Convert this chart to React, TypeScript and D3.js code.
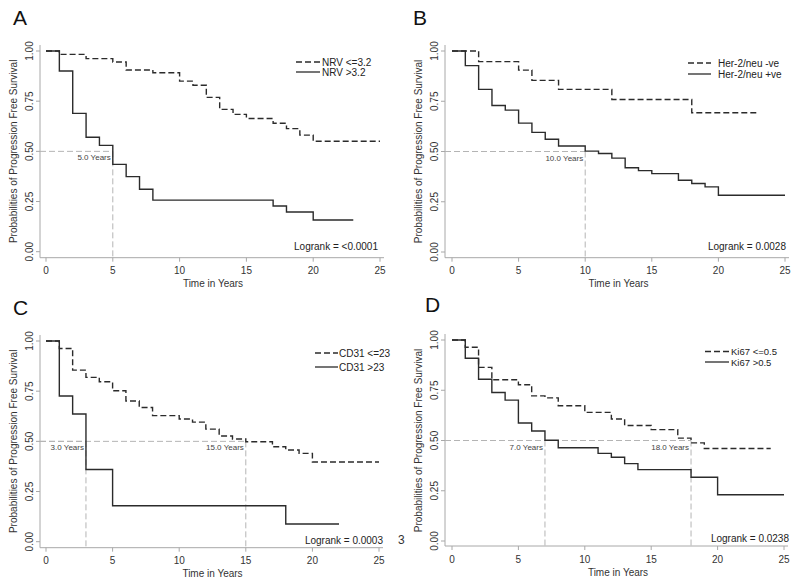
import * as React from "react";
import * as d3 from "d3";

// time axis / probability axis ticks
const yearTicks = [0, 5, 10, 15, 20, 25];
const probTicks = [0, 0.25, 0.5, 0.75, 1];

// A: NRV
const nrvLowTimes = [0, 1, 3, 5, 6, 8, 10, 11, 12, 13, 14, 15, 17, 18, 19, 20];
const nrvLowSurv = [1, 0.983, 0.962, 0.945, 0.905, 0.892, 0.85, 0.829, 0.769, 0.709, 0.684, 0.664, 0.64, 0.613, 0.581, 0.55];
const nrvLowEnd = 25;
const nrvHighTimes = [0, 1, 2, 3, 4, 5, 6, 7, 8, 17, 18, 20];
const nrvHighSurv = [1, 0.9, 0.689, 0.57, 0.53, 0.435, 0.374, 0.311, 0.257, 0.228, 0.198, 0.158];
const nrvHighEnd = 23;

// B: Her-2/neu
const herNegTimes = [0, 2, 5, 6, 8, 12, 18];
const herNegSurv = [1, 0.947, 0.905, 0.854, 0.809, 0.759, 0.693];
const herNegEnd = 23;
const herPosTimes = [0, 1, 2, 3, 4, 5, 6, 7, 8, 10, 11, 12, 13, 14, 15, 17, 18, 19, 20];
const herPosSurv = [1, 0.927, 0.809, 0.729, 0.706, 0.641, 0.595, 0.561, 0.527, 0.502, 0.49, 0.467, 0.419, 0.405, 0.39, 0.357, 0.341, 0.324, 0.282];
const herPosEnd = 25;

// C: CD31
const cdLowTimes = [0, 1, 2, 3, 4, 5, 6, 7, 8, 10, 11, 12, 13, 14, 15, 17, 18, 19, 20];
const cdLowSurv = [1, 0.963, 0.855, 0.819, 0.797, 0.752, 0.701, 0.669, 0.628, 0.611, 0.596, 0.561, 0.527, 0.512, 0.498, 0.473, 0.457, 0.44, 0.397];
const cdLowEnd = 25;
const cdHighTimes = [0, 1, 2, 3, 5, 18];
const cdHighSurv = [1, 0.726, 0.636, 0.36, 0.179, 0.088];
const cdHighEnd = 22;

// D: Ki67
const kiLowTimes = [0, 1, 2, 3, 5, 6, 7, 8, 10, 12, 13, 15, 17, 18, 19];
const kiLowSurv = [1, 0.964, 0.864, 0.802, 0.777, 0.722, 0.712, 0.673, 0.64, 0.607, 0.575, 0.554, 0.512, 0.488, 0.46];
const kiLowEnd = 24;
const kiHighTimes = [0, 1, 2, 3, 4, 5, 6, 7, 8, 11, 12, 13, 14, 18, 20];
const kiHighSurv = [1, 0.909, 0.805, 0.739, 0.701, 0.587, 0.547, 0.501, 0.464, 0.436, 0.417, 0.385, 0.355, 0.317, 0.23];
const kiHighEnd = 25;

const panelLetters = ["A", "B", "C", "D"];
const legendLabels = [
  ["NRV <=3.2", "NRV >3.2"],
  ["Her-2/neu -ve", "Her-2/neu +ve"],
  ["CD31 <=23", "CD31 >23"],
  ["Ki67 <=0.5", "Ki67 >0.5"],
];
const logranks = ["<0.0001", "0.0028", "0.0003", "0.0238"];
const medians = [[5], [10], [3, 15], [7, 18]];

const FONT = "'Liberation Sans', Arial, Helvetica, sans-serif";
const INK = "#2b2b2b";
const AXIS = "#a8a8a8";

type Curve = { times: number[]; surv: number[]; end: number };

const series: Curve[][] = [
  [
    { times: nrvLowTimes, surv: nrvLowSurv, end: nrvLowEnd },
    { times: nrvHighTimes, surv: nrvHighSurv, end: nrvHighEnd },
  ],
  [
    { times: herNegTimes, surv: herNegSurv, end: herNegEnd },
    { times: herPosTimes, surv: herPosSurv, end: herPosEnd },
  ],
  [
    { times: cdLowTimes, surv: cdLowSurv, end: cdLowEnd },
    { times: cdHighTimes, surv: cdHighSurv, end: cdHighEnd },
  ],
  [
    { times: kiLowTimes, surv: kiLowSurv, end: kiLowEnd },
    { times: kiHighTimes, surv: kiHighSurv, end: kiHighEnd },
  ],
];

// layout of each panel
const layouts = [
  { lx: 13, ly: 25, xr: [46, 380], yr: [251.7, 51], ax: 40, ay: 257.7, leg: { x1: 296, x2: 320, tx: 322, ys: [62, 72], fs: 10 }, lr: { x: 378, y: 250 } },
  { lx: 413, ly: 25, xr: [452, 785], yr: [252, 51], ax: 445, ay: 257.7, leg: { x1: 688, x2: 711, tx: 718, ys: [63, 74], fs: 10 }, lr: { x: 786, y: 250 } },
  { lx: 13, ly: 315, xr: [46, 379], yr: [541.7, 341], ax: 40, ay: 547.7, leg: { x1: 315, x2: 338, tx: 339, ys: [353, 367], fs: 10 }, lr: { x: 383, y: 544 } },
  { lx: 425, ly: 312, xr: [452, 784], yr: [541, 340], ax: 445, ay: 546, leg: { x1: 705, x2: 729, tx: 731, ys: [351.5, 362], fs: 9.5 }, lr: { x: 789, y: 542 } },
];

const dashes = ["6,3", null];

const Panel = ({ idx }: { idx: number }) => {
  const L = layouts[idx];
  const x = d3.scaleLinear().domain([0, 25]).range(L.xr);
  const y = d3.scaleLinear().domain([0, 1]).range(L.yr);
  const line = d3
    .line<[number, number]>()
    .x((d) => x(d[0]))
    .y((d) => y(d[1]))
    .curve(d3.curveStepAfter);

  return (
    <g>
      <text x={L.lx} y={L.ly} fontSize={21} fontFamily={FONT} fill="#111">
        {panelLetters[idx]}
      </text>

      {/* axes */}
      <line x1={L.ax} x2={L.ax} y1={y(1) - 6} y2={L.ay} stroke={AXIS} strokeWidth={1} />
      <line x1={L.ax} x2={x(25) + 4} y1={L.ay} y2={L.ay} stroke={AXIS} strokeWidth={1} />
      {probTicks.map((t) => (
        <g key={"y" + t}>
          <line x1={L.ax - 4} x2={L.ax} y1={y(t)} y2={y(t)} stroke={AXIS} />
          <text
            transform={`translate(${L.ax - 7},${y(t)}) rotate(-90)`}
            textAnchor="middle"
            fontSize={10}
            fontFamily={FONT}
            fill="#333"
          >
            {t.toFixed(2)}
          </text>
        </g>
      ))}
      {yearTicks.map((t) => (
        <g key={"x" + t}>
          <line x1={x(t)} x2={x(t)} y1={L.ay} y2={L.ay + 4} stroke={AXIS} />
          <text x={x(t)} y={L.ay + 16.5} textAnchor="middle" fontSize={10} fontFamily={FONT} fill="#333">
            {t}
          </text>
        </g>
      ))}
      <text
        x={(L.xr[0] + L.xr[1]) / 2}
        y={L.ay + 29.5}
        textAnchor="middle"
        fontSize={10}
        fontFamily={FONT}
        fill="#333"
      >
        Time in Years
      </text>
      <text
        transform={`translate(${L.ax - 23},${(L.yr[0] + L.yr[1]) / 2}) rotate(-90)`}
        textAnchor="middle"
        fontSize={10}
        fontFamily={FONT}
        fill="#333"
      >
        Probabilities of Progression Free Survival
      </text>

      {/* median reference lines */}
      {medians[idx].map((m) => (
        <g key={"m" + m}>
          <line x1={L.ax} x2={x(m)} y1={y(0.5)} y2={y(0.5)} stroke="#b4b4b4" strokeDasharray="6,3" />
          <line x1={x(m)} x2={x(m)} y1={y(0.5)} y2={L.ay} stroke="#b4b4b4" strokeDasharray="6,3" />
          <text x={x(m) - 2} y={y(0.5) + 9} textAnchor="end" fontSize={8} fontFamily={FONT} fill="#444">
            {m.toFixed(1) + " Years"}
          </text>
        </g>
      ))}

      {/* survival curves */}
      {series[idx].map((c, i) => {
        const pts: [number, number][] = c.times.map((t, j) => [t, c.surv[j]]);
        pts.push([c.end, c.surv[c.surv.length - 1]]);
        return (
          <path
            key={"c" + i}
            d={line(pts) || ""}
            fill="none"
            stroke={INK}
            strokeWidth={1.4}
            strokeDasharray={dashes[i] || undefined}
          />
        );
      })}

      {/* legend */}
      {legendLabels[idx].map((lab, i) => (
        <g key={"l" + i}>
          <line
            x1={L.leg.x1}
            x2={L.leg.x2}
            y1={L.leg.ys[i]}
            y2={L.leg.ys[i]}
            stroke={INK}
            strokeWidth={1.3}
            strokeDasharray={dashes[i] || undefined}
          />
          <text x={L.leg.tx} y={L.leg.ys[i] + 3.5} fontSize={L.leg.fs} fontFamily={FONT} fill="#222">
            {lab}
          </text>
        </g>
      ))}

      <text x={L.lr.x} y={L.lr.y} textAnchor="end" fontSize={10} fontFamily={FONT} fill="#222">
        {"Logrank = " + logranks[idx]}
      </text>
    </g>
  );
};

export default function App() {
  return (
    <svg
      width={800}
      height={584}
      style={{ position: "absolute", left: 0, top: 0, background: "#fff" }}
    >
      <rect width={800} height={584} fill="#fff" />
      {layouts.map((_, i) => (
        <Panel key={i} idx={i} />
      ))}
      <text x={398} y={544} fontSize={12} fontFamily={FONT} fill="#333">
        3
      </text>
    </svg>
  );
}
